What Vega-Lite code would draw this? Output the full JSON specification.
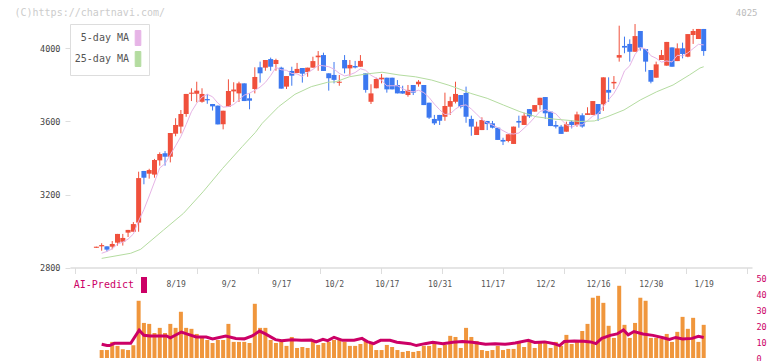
{
"$schema":"https://vega.github.io/schema/vega-lite/v6.json",
"width":682,"height":334,
"autosize":{"type":"none"},
"padding":{"left":70,"top":24,"right":20,"bottom":3},
"background":"white",
"config":{"view":{"stroke":null},"font":"DejaVu Sans Mono","axis":{"grid":false}},
"datasets":{
"candles":[
{"i":0,"o":2908,"h":2914,"l":2908,"c":2914},{"i":1,"o":2916,"h":2933,"l":2892,"c":2923},{"i":2,"o":2916,"h":2916,"l":2887,"c":2898},{"i":3,"o":2914,"h":2945,"l":2900,"c":2929},{"i":4,"o":2936,"h":2984,"l":2920,"c":2984},{"i":5,"o":2941,"h":2984,"l":2920,"c":2962},{"i":6,"o":2991,"h":3006,"l":2967,"c":3006},{"i":7,"o":2996,"h":3049,"l":2996,"c":3038},{"i":8,"o":3046,"h":3325,"l":2996,"c":3290},{"i":9,"o":3329,"h":3329,"l":3256,"c":3292},
{"i":10,"o":3314,"h":3341,"l":3287,"c":3334},{"i":11,"o":3309,"h":3395,"l":3292,"c":3389},{"i":12,"o":3387,"h":3431,"l":3358,"c":3422},{"i":13,"o":3426,"h":3438,"l":3358,"c":3407},{"i":14,"o":3407,"h":3537,"l":3376,"c":3537},{"i":15,"o":3533,"h":3618,"l":3519,"c":3581},{"i":16,"o":3572,"h":3663,"l":3535,"c":3641},{"i":17,"o":3641,"h":3751,"l":3626,"c":3751},{"i":18,"o":3752,"h":3782,"l":3712,"c":3758},{"i":19,"o":3752,"h":3818,"l":3705,"c":3769},
{"i":20,"o":3708,"h":3782,"l":3703,"c":3751},{"i":21,"o":3723,"h":3751,"l":3697,"c":3716},{"i":22,"o":3696,"h":3696,"l":3660,"c":3683},{"i":23,"o":3687,"h":3687,"l":3584,"c":3584},{"i":24,"o":3585,"h":3659,"l":3557,"c":3659},{"i":25,"o":3681,"h":3831,"l":3681,"c":3767},{"i":26,"o":3765,"h":3815,"l":3707,"c":3775},{"i":27,"o":3754,"h":3818,"l":3707,"c":3809},{"i":28,"o":3809,"h":3809,"l":3712,"c":3712},{"i":29,"o":3727,"h":3754,"l":3667,"c":3714},
{"i":30,"o":3778,"h":3897,"l":3754,"c":3844},{"i":31,"o":3897,"h":3928,"l":3813,"c":3864},{"i":32,"o":3895,"h":3937,"l":3878,"c":3937},{"i":33,"o":3942,"h":3950,"l":3878,"c":3900},{"i":34,"o":3915,"h":3944,"l":3878,"c":3937},{"i":35,"o":3895,"h":3900,"l":3780,"c":3780},{"i":36,"o":3791,"h":3849,"l":3778,"c":3849},{"i":37,"o":3877,"h":3900,"l":3796,"c":3851},{"i":38,"o":3866,"h":3921,"l":3866,"c":3888},{"i":39,"o":3893,"h":3893,"l":3813,"c":3862},
{"i":40,"o":3871,"h":3895,"l":3845,"c":3895},{"i":41,"o":3895,"h":3955,"l":3895,"c":3931},{"i":42,"o":3952,"h":3986,"l":3878,"c":3961},{"i":43,"o":3964,"h":3977,"l":3877,"c":3877},{"i":44,"o":3864,"h":3864,"l":3769,"c":3837},{"i":45,"o":3855,"h":3926,"l":3809,"c":3828},{"i":46,"o":3812,"h":3855,"l":3796,"c":3818},{"i":47,"o":3937,"h":3964,"l":3864,"c":3891},{"i":48,"o":3891,"h":3937,"l":3851,"c":3910},{"i":49,"o":3904,"h":3932,"l":3891,"c":3896},
{"i":50,"o":3900,"h":3964,"l":3900,"c":3932},{"i":51,"o":3864,"h":3864,"l":3758,"c":3773},{"i":52,"o":3708,"h":3804,"l":3696,"c":3754},{"i":53,"o":3782,"h":3840,"l":3782,"c":3833},{"i":54,"o":3831,"h":3860,"l":3809,"c":3840},{"i":55,"o":3840,"h":3840,"l":3758,"c":3776},{"i":56,"o":3840,"h":3840,"l":3776,"c":3776},{"i":57,"o":3800,"h":3827,"l":3754,"c":3754},{"i":58,"o":3767,"h":3796,"l":3752,"c":3753},{"i":59,"o":3745,"h":3800,"l":3736,"c":3773},
{"i":60,"o":3800,"h":3800,"l":3745,"c":3758},{"i":61,"o":3804,"h":3827,"l":3791,"c":3818},{"i":62,"o":3800,"h":3800,"l":3690,"c":3690},{"i":63,"o":3703,"h":3703,"l":3614,"c":3621},{"i":64,"o":3614,"h":3636,"l":3581,"c":3590},{"i":65,"o":3636,"h":3636,"l":3581,"c":3604},{"i":66,"o":3626,"h":3758,"l":3604,"c":3685},{"i":67,"o":3681,"h":3736,"l":3636,"c":3712},{"i":68,"o":3708,"h":3818,"l":3699,"c":3751},{"i":69,"o":3745,"h":3745,"l":3672,"c":3681},
{"i":70,"o":3756,"h":3791,"l":3593,"c":3626},{"i":71,"o":3614,"h":3632,"l":3522,"c":3572},{"i":72,"o":3526,"h":3599,"l":3526,"c":3572},{"i":73,"o":3553,"h":3623,"l":3553,"c":3608},{"i":74,"o":3603,"h":3603,"l":3553,"c":3586},{"i":75,"o":3590,"h":3603,"l":3562,"c":3566},{"i":76,"o":3566,"h":3566,"l":3499,"c":3499},{"i":77,"o":3499,"h":3511,"l":3471,"c":3490},{"i":78,"o":3493,"h":3530,"l":3486,"c":3530},{"i":79,"o":3477,"h":3572,"l":3477,"c":3572},
{"i":80,"o":3603,"h":3632,"l":3566,"c":3594},{"i":81,"o":3581,"h":3648,"l":3581,"c":3632},{"i":82,"o":3668,"h":3668,"l":3619,"c":3628},{"i":83,"o":3654,"h":3690,"l":3654,"c":3690},{"i":84,"o":3690,"h":3730,"l":3665,"c":3730},{"i":85,"o":3734,"h":3734,"l":3614,"c":3645},{"i":86,"o":3654,"h":3654,"l":3575,"c":3575},{"i":87,"o":3581,"h":3603,"l":3562,"c":3572},{"i":88,"o":3572,"h":3581,"l":3532,"c":3532},{"i":89,"o":3544,"h":3599,"l":3544,"c":3585},
{"i":90,"o":3599,"h":3608,"l":3562,"c":3581},{"i":91,"o":3581,"h":3654,"l":3571,"c":3639},{"i":92,"o":3634,"h":3645,"l":3566,"c":3572},{"i":93,"o":3636,"h":3678,"l":3636,"c":3645},{"i":94,"o":3636,"h":3712,"l":3636,"c":3712},{"i":95,"o":3696,"h":3696,"l":3603,"c":3641},{"i":96,"o":3694,"h":3842,"l":3658,"c":3842},{"i":97,"o":3773,"h":3842,"l":3708,"c":3758},{"i":98,"o":3809,"h":3849,"l":3778,"c":3817},{"i":99,"o":3950,"h":4125,"l":3928,"c":3964},
{"i":100,"o":4014,"h":4065,"l":3974,"c":4005},{"i":101,"o":4025,"h":4050,"l":3928,"c":3982},{"i":102,"o":3982,"h":4134,"l":3982,"c":4068},{"i":103,"o":4096,"h":4096,"l":3988,"c":4005},{"i":104,"o":3997,"h":3997,"l":3873,"c":3928},{"i":105,"o":3882,"h":3882,"l":3809,"c":3818},{"i":106,"o":3840,"h":3928,"l":3840,"c":3913},{"i":107,"o":3937,"h":3992,"l":3937,"c":3964},{"i":108,"o":3906,"h":4036,"l":3906,"c":4036},{"i":109,"o":4006,"h":4006,"l":3900,"c":3900},
{"i":110,"o":3931,"h":4028,"l":3931,"c":4001},{"i":111,"o":4001,"h":4032,"l":3946,"c":3970},{"i":112,"o":3955,"h":4079,"l":3952,"c":4079},{"i":113,"o":4074,"h":4107,"l":4025,"c":4096},{"i":114,"o":4052,"h":4107,"l":4052,"c":4107},{"i":115,"o":4107,"h":4107,"l":3960,"c":3986}
],
"ma":[
{"i":1,"v":2878,"s":"5-day MA"},{"i":2,"v":2888,"s":"5-day MA"},{"i":3,"v":2902,"s":"5-day MA"},{"i":4,"v":2928.8,"s":"5-day MA"},{"i":5,"v":2939,"s":"5-day MA"},{"i":6,"v":2955.4,"s":"5-day MA"},{"i":7,"v":2983.4,"s":"5-day MA"},{"i":8,"v":3055.6,"s":"5-day MA"},{"i":9,"v":3117.4,"s":"5-day MA"},{"i":10,"v":3191.8,"s":"5-day MA"},
{"i":11,"v":3268.6,"s":"5-day MA"},{"i":12,"v":3345.4,"s":"5-day MA"},{"i":13,"v":3368.8,"s":"5-day MA"},{"i":14,"v":3417.8,"s":"5-day MA"},{"i":15,"v":3467.2,"s":"5-day MA"},{"i":16,"v":3517.6,"s":"5-day MA"},{"i":17,"v":3583.4,"s":"5-day MA"},{"i":18,"v":3653.6,"s":"5-day MA"},{"i":19,"v":3700,"s":"5-day MA"},{"i":20,"v":3734,"s":"5-day MA"},
{"i":21,"v":3749,"s":"5-day MA"},{"i":22,"v":3735.4,"s":"5-day MA"},{"i":23,"v":3700.6,"s":"5-day MA"},{"i":24,"v":3678.6,"s":"5-day MA"},{"i":25,"v":3681.8,"s":"5-day MA"},{"i":26,"v":3693.4,"s":"5-day MA"},{"i":27,"v":3718.6,"s":"5-day MA"},{"i":28,"v":3744.2,"s":"5-day MA"},{"i":29,"v":3755.2,"s":"5-day MA"},{"i":30,"v":3770.6,"s":"5-day MA"},
{"i":31,"v":3788.6,"s":"5-day MA"},{"i":32,"v":3814.2,"s":"5-day MA"},{"i":33,"v":3851.8,"s":"5-day MA"},{"i":34,"v":3896.4,"s":"5-day MA"},{"i":35,"v":3883.6,"s":"5-day MA"},{"i":36,"v":3880.6,"s":"5-day MA"},{"i":37,"v":3863.4,"s":"5-day MA"},{"i":38,"v":3861,"s":"5-day MA"},{"i":39,"v":3846,"s":"5-day MA"},{"i":40,"v":3869,"s":"5-day MA"},
{"i":41,"v":3885.4,"s":"5-day MA"},{"i":42,"v":3907.4,"s":"5-day MA"},{"i":43,"v":3905.2,"s":"5-day MA"},{"i":44,"v":3900.2,"s":"5-day MA"},{"i":45,"v":3886.8,"s":"5-day MA"},{"i":46,"v":3863.8,"s":"5-day MA"},{"i":47,"v":3849.8,"s":"5-day MA"},{"i":48,"v":3856.4,"s":"5-day MA"},{"i":49,"v":3868.2,"s":"5-day MA"},{"i":50,"v":3889,"s":"5-day MA"},
{"i":51,"v":3880.4,"s":"5-day MA"},{"i":52,"v":3853,"s":"5-day MA"},{"i":53,"v":3837.6,"s":"5-day MA"},{"i":54,"v":3826.4,"s":"5-day MA"},{"i":55,"v":3795.2,"s":"5-day MA"},{"i":56,"v":3795.8,"s":"5-day MA"},{"i":57,"v":3795.8,"s":"5-day MA"},{"i":58,"v":3779.8,"s":"5-day MA"},{"i":59,"v":3766.4,"s":"5-day MA"},{"i":60,"v":3762.8,"s":"5-day MA"},
{"i":61,"v":3771.2,"s":"5-day MA"},{"i":62,"v":3758.4,"s":"5-day MA"},{"i":63,"v":3732,"s":"5-day MA"},{"i":64,"v":3695.4,"s":"5-day MA"},{"i":65,"v":3664.6,"s":"5-day MA"},{"i":66,"v":3638,"s":"5-day MA"},{"i":67,"v":3642.4,"s":"5-day MA"},{"i":68,"v":3668.4,"s":"5-day MA"},{"i":69,"v":3686.6,"s":"5-day MA"},{"i":70,"v":3691,"s":"5-day MA"},
{"i":71,"v":3668.4,"s":"5-day MA"},{"i":72,"v":3640.4,"s":"5-day MA"},{"i":73,"v":3611.8,"s":"5-day MA"},{"i":74,"v":3592.8,"s":"5-day MA"},{"i":75,"v":3580.8,"s":"5-day MA"},{"i":76,"v":3566.2,"s":"5-day MA"},{"i":77,"v":3549.8,"s":"5-day MA"},{"i":78,"v":3534.2,"s":"5-day MA"},{"i":79,"v":3531.4,"s":"5-day MA"},{"i":80,"v":3537,"s":"5-day MA"},
{"i":81,"v":3563.6,"s":"5-day MA"},{"i":82,"v":3591.2,"s":"5-day MA"},{"i":83,"v":3623.2,"s":"5-day MA"},{"i":84,"v":3654.8,"s":"5-day MA"},{"i":85,"v":3665,"s":"5-day MA"},{"i":86,"v":3653.6,"s":"5-day MA"},{"i":87,"v":3642.4,"s":"5-day MA"},{"i":88,"v":3610.8,"s":"5-day MA"},{"i":89,"v":3581.8,"s":"5-day MA"},{"i":90,"v":3569,"s":"5-day MA"},
{"i":91,"v":3581.8,"s":"5-day MA"},{"i":92,"v":3581.8,"s":"5-day MA"},{"i":93,"v":3604.4,"s":"5-day MA"},{"i":94,"v":3629.8,"s":"5-day MA"},{"i":95,"v":3641.8,"s":"5-day MA"},{"i":96,"v":3682.4,"s":"5-day MA"},{"i":97,"v":3719.6,"s":"5-day MA"},{"i":98,"v":3754,"s":"5-day MA"},{"i":99,"v":3804.4,"s":"5-day MA"},{"i":100,"v":3877.2,"s":"5-day MA"},
{"i":101,"v":3905.2,"s":"5-day MA"},{"i":102,"v":3967.2,"s":"5-day MA"},{"i":103,"v":4004.8,"s":"5-day MA"},{"i":104,"v":3997.6,"s":"5-day MA"},{"i":105,"v":3960.2,"s":"5-day MA"},{"i":106,"v":3946.4,"s":"5-day MA"},{"i":107,"v":3925.6,"s":"5-day MA"},{"i":108,"v":3931.8,"s":"5-day MA"},{"i":109,"v":3926.2,"s":"5-day MA"},{"i":110,"v":3962.8,"s":"5-day MA"},
{"i":111,"v":3959.4,"s":"5-day MA"},{"i":112,"v":3976,"s":"5-day MA"},{"i":113,"v":3999.2,"s":"5-day MA"},{"i":114,"v":4022.8,"s":"5-day MA"},{"i":115,"v":4019.8,"s":"5-day MA"},
{"i":1,"v":2850,"s":"25-day MA"},{"i":6.5,"v":2878,"s":"25-day MA"},{"i":8.4,"v":2900,"s":"25-day MA"},{"i":12.7,"v":3005,"s":"25-day MA"},{"i":16.5,"v":3097,"s":"25-day MA"},{"i":20.2,"v":3215,"s":"25-day MA"},{"i":23.9,"v":3343,"s":"25-day MA"},{"i":27.6,"v":3462,"s":"25-day MA"},{"i":30.1,"v":3540,"s":"25-day MA"},{"i":31.4,"v":3590,"s":"25-day MA"},
{"i":34.5,"v":3681,"s":"25-day MA"},{"i":37.6,"v":3749,"s":"25-day MA"},{"i":40.7,"v":3791,"s":"25-day MA"},{"i":43.8,"v":3815,"s":"25-day MA"},{"i":45.4,"v":3818,"s":"25-day MA"},{"i":47.9,"v":3845,"s":"25-day MA"},{"i":51,"v":3860,"s":"25-day MA"},{"i":54.1,"v":3870,"s":"25-day MA"},{"i":57.3,"v":3855,"s":"25-day MA"},{"i":60.4,"v":3845,"s":"25-day MA"},
{"i":63.5,"v":3827,"s":"25-day MA"},{"i":66.6,"v":3800,"s":"25-day MA"},{"i":68.1,"v":3785,"s":"25-day MA"},{"i":70.9,"v":3754,"s":"25-day MA"},{"i":74,"v":3727,"s":"25-day MA"},{"i":77.1,"v":3690,"s":"25-day MA"},{"i":80.2,"v":3654,"s":"25-day MA"},{"i":83.3,"v":3626,"s":"25-day MA"},{"i":86.4,"v":3614,"s":"25-day MA"},{"i":89.5,"v":3606,"s":"25-day MA"},
{"i":91.5,"v":3600,"s":"25-day MA"},{"i":94.3,"v":3603,"s":"25-day MA"},{"i":96.7,"v":3626,"s":"25-day MA"},{"i":99.9,"v":3663,"s":"25-day MA"},{"i":103,"v":3718,"s":"25-day MA"},{"i":106.1,"v":3763,"s":"25-day MA"},{"i":109.2,"v":3800,"s":"25-day MA"},{"i":112.3,"v":3855,"s":"25-day MA"},{"i":114.3,"v":3893,"s":"25-day MA"},{"i":115,"v":3900,"s":"25-day MA"}
],
"vol":[
{"i":1,"v":5.0},{"i":2,"v":5.0},{"i":3,"v":10.1},{"i":4,"v":7.6},{"i":5,"v":5.5},{"i":6,"v":5.0},{"i":7,"v":8.0},{"i":8,"v":35.9},{"i":9,"v":22.0},{"i":10,"v":21.4},
{"i":11,"v":15.7},{"i":12,"v":18.9},{"i":13,"v":15.7},{"i":14,"v":21.4},{"i":15,"v":18.9},{"i":16,"v":29.0},{"i":17,"v":18.9},{"i":18,"v":18.3},{"i":19,"v":15.1},{"i":20,"v":13.2},
{"i":21,"v":11.3},{"i":22,"v":9.4},{"i":23,"v":11.3},{"i":24,"v":11.3},{"i":25,"v":21.4},{"i":26,"v":10.1},{"i":27,"v":10.1},{"i":28,"v":10.1},{"i":29,"v":9.4},{"i":30,"v":34.0},
{"i":31,"v":18.9},{"i":32,"v":18.9},{"i":33,"v":11.3},{"i":34,"v":9.4},{"i":35,"v":10.1},{"i":36,"v":7.6},{"i":37,"v":13.2},{"i":38,"v":6.3},{"i":39,"v":6.9},{"i":40,"v":6.3},
{"i":41,"v":11.3},{"i":42,"v":8.2},{"i":43,"v":9.4},{"i":44,"v":10.1},{"i":45,"v":11.3},{"i":46,"v":12.0},{"i":47,"v":10.1},{"i":48,"v":7.6},{"i":49,"v":7.6},{"i":50,"v":8.8},
{"i":51,"v":11.3},{"i":52,"v":10.1},{"i":53,"v":5.0},{"i":54,"v":5.0},{"i":55,"v":8.2},{"i":56,"v":6.9},{"i":57,"v":5.0},{"i":58,"v":3.8},{"i":59,"v":4.4},{"i":60,"v":3.8},
{"i":61,"v":4.4},{"i":62,"v":7.6},{"i":63,"v":7.6},{"i":64,"v":8.8},{"i":65,"v":6.3},{"i":66,"v":8.2},{"i":67,"v":13.9},{"i":68,"v":13.2},{"i":69,"v":6.3},{"i":70,"v":18.9},
{"i":71,"v":13.2},{"i":72,"v":10.7},{"i":73,"v":5.0},{"i":74,"v":4.4},{"i":75,"v":5.0},{"i":76,"v":7.6},{"i":77,"v":5.0},{"i":78,"v":5.7},{"i":79,"v":5.7},{"i":80,"v":9.4},
{"i":81,"v":6.9},{"i":82,"v":10.1},{"i":83,"v":6.3},{"i":84,"v":10.1},{"i":85,"v":10.1},{"i":86,"v":6.3},{"i":87,"v":10.1},{"i":88,"v":7.6},{"i":89,"v":14.5},{"i":90,"v":8.8},
{"i":91,"v":10.1},{"i":92,"v":17.0},{"i":93,"v":21.4},{"i":94,"v":37.8},{"i":95,"v":39.0},{"i":96,"v":34.6},{"i":97,"v":20.2},{"i":98,"v":12.6},{"i":99,"v":45.3},{"i":100,"v":20.8},
{"i":101,"v":12.6},{"i":102,"v":22.0},{"i":103,"v":37.8},{"i":104,"v":35.9},{"i":105,"v":12.6},{"i":106,"v":12.6},{"i":107,"v":12.0},{"i":108,"v":15.1},{"i":109,"v":10.1},{"i":110,"v":16.4},
{"i":111,"v":25.8},{"i":112,"v":18.3},{"i":113,"v":25.2},{"i":114,"v":10.1},{"i":115,"v":20.8}
],
"ai":[
{"i":1,"a":8.6},{"i":2,"a":7.8},{"i":2.5,"a":7.8},{"i":3.4,"a":9.2},{"i":6.5,"a":9.2},{"i":8.1,"a":17.4},{"i":9,"a":14.2},{"i":10.2,"a":13.8},{"i":13.3,"a":13.8},{"i":14,"a":12.7},
{"i":16.1,"a":16.3},{"i":17.1,"a":15.1},{"i":18.9,"a":13.2},{"i":20.8,"a":13.2},{"i":22,"a":12},{"i":24.5,"a":13.8},{"i":26.4,"a":12.3},{"i":28,"a":12},{"i":29.5,"a":13.8},{"i":30.9,"a":16.9},
{"i":32,"a":15.1},{"i":33.9,"a":11.5},{"i":35.1,"a":10.9},{"i":37,"a":11.5},{"i":38.8,"a":11.1},{"i":40.7,"a":11.3},{"i":41.6,"a":10.1},{"i":42.9,"a":11.7},{"i":43.8,"a":10.9},{"i":45,"a":13.0},
{"i":46.6,"a":11.1},{"i":48.8,"a":11.1},{"i":50.3,"a":12.3},{"i":51.3,"a":10.3},{"i":52.5,"a":9.0},{"i":53.8,"a":11.1},{"i":55.6,"a":11.1},{"i":56.9,"a":9.9},{"i":59.4,"a":9.0},{"i":60.6,"a":7.8},
{"i":62.2,"a":9.0},{"i":63.7,"a":9.9},{"i":65.6,"a":9.0},{"i":67.5,"a":9.9},{"i":69.3,"a":10.3},{"i":71.2,"a":9.9},{"i":73.7,"a":8.6},{"i":75.5,"a":9.0},{"i":77.4,"a":8.6},{"i":79.3,"a":9.4},
{"i":81.8,"a":11.1},{"i":83,"a":9.7},{"i":84.9,"a":10.1},{"i":86.7,"a":9.0},{"i":87.7,"a":7.8},{"i":88.6,"a":10.3},{"i":90.5,"a":10.7},{"i":92.3,"a":10.5},{"i":93.6,"a":10.1},{"i":94.6,"a":9.0},
{"i":95.7,"a":12.3},{"i":97.3,"a":14.2},{"i":98.6,"a":15.1},{"i":99.8,"a":17.6},{"i":100.7,"a":14.5},{"i":101.8,"a":16.6},{"i":103.5,"a":15.1},{"i":105.4,"a":14.2},{"i":107.3,"a":12.7},{"i":108.5,"a":11.7},
{"i":109.7,"a":12.9},{"i":111,"a":11.9},{"i":112.8,"a":12.3},{"i":114,"a":13.6},{"i":115,"a":12.9}
]
},
"layer":[
{"layer":[
{"data":{"name":"candles"},"mark":{"type":"rule","strokeWidth":1},
 "encoding":{
  "x":{"field":"i","type":"quantitative","scale":{"domain":[-4.05,123.2],"nice":false,"zero":false},
   "axis":{"orient":"bottom","offset":-90.5,"values":[-4.01,7.56,19.13,30.69,42.26,53.83,65.39,76.96,88.53,100.1,111.66,123.2],"labels":false,"tickSize":6,"tickColor":"#dddddd","domainColor":"#dddddd","domainWidth":1.5,"title":null,"grid":false}},
  "y":{"field":"l","type":"quantitative","scale":{"domain":[2304.2,4134.2],"nice":false,"zero":false},
   "axis":{"orient":"left","values":[2800,3200,3600,4000],"format":"d","domain":false,"tickSize":5,"tickColor":"#dddddd","labelPadding":5,"labelFontSize":8.5,"labelColor":"#444444","labelFont":"DejaVu Sans Mono",
   "title":"(C)https://chartnavi.com/","titleAngle":0,"titleX":-56,"titleY":-12,"titleAlign":"left","titleBaseline":"middle","titleFontSize":10,"titleFontWeight":"normal","titleColor":"#cccccc","titleFont":"DejaVu Sans Mono"}},
  "y2":{"field":"h"},
  "color":{"condition":{"test":"datum.c >= datum.o","value":"#f0503c"},"value":"#3c78f0"}
 }},
{"data":{"name":"candles"},"mark":{"type":"bar","size":5,"orient":"vertical"},
 "encoding":{
  "x":{"field":"i","type":"quantitative"},
  "y":{"field":"o","type":"quantitative"},
  "y2":{"field":"c"},
  "color":{"condition":{"test":"datum.c >= datum.o","value":"#f0503c"},"value":"#3c78f0"}
 }},
{"data":{"name":"ma"},"mark":{"type":"line","strokeWidth":1},
 "encoding":{
  "x":{"field":"i","type":"quantitative"},
  "y":{"field":"v","type":"quantitative"},
  "color":{"field":"s","type":"nominal","scale":{"domain":["5-day MA","25-day MA"],"range":["#e6b4e6","#b4dca0"]},
   "legend":{"orient":"top-left","offset":0,"title":null,"padding":6,"strokeColor":"#dddddd","fillColor":"white","labelFont":"DejaVu Sans Mono","labelFontSize":10,"labelColor":"#555555",
    "symbolType":"M-0.375,-1H0.375V1H-0.375Z","symbolSize":225,"symbolStrokeColor":"#555555","symbolStrokeWidth":1,"rowPadding":1,"labelAlign":"right","labelOffset":-17,"symbolOffset":54,
    "encode":{"symbols":{"update":{"fill":[{"test":"datum.value === '5-day MA'","value":"#e6b4e6"},{"value":"#b4dca0"}],"stroke":{"value":"#555555"},"strokeWidth":{"value":1},"opacity":{"value":1}}}}}}
 }},
{"mark":{"type":"rule","color":"#dddddd","strokeWidth":1.5},
 "encoding":{"x":{"datum":-4.05,"type":"quantitative"},"y":{"datum":2800,"type":"quantitative"},"y2":{"datum":4134.2}}}
]},
{"layer":[
{"data":{"name":"vol"},"mark":{"type":"bar","size":4,"orient":"vertical","color":"#f0963c"},
 "encoding":{
  "x":{"field":"i","type":"quantitative","scale":{"domain":[-4.05,123.2],"nice":false,"zero":false},
   "axis":{"orient":"bottom","offset":-90.5,"values":[15,25,35,45,55,65,75,85,95,105,115],"domain":false,"ticks":false,"tickSize":0,"labelPadding":13,"labelFontSize":8,"labelColor":"#555555","labelFont":"DejaVu Sans Mono","title":null,"grid":false,
   "labelExpr":"datum.value==15?'8/19':datum.value==25?'9/2':datum.value==35?'9/17':datum.value==45?'10/2':datum.value==55?'10/17':datum.value==65?'10/31':datum.value==75?'11/17':datum.value==85?'12/2':datum.value==95?'12/16':datum.value==105?'12/30':'1/19'"}},
  "y":{"field":"v","type":"quantitative","scale":{"domain":[0,209.5],"nice":false,"zero":true},
   "axis":{"orient":"right","values":[0,10,20,30,40,50],"domain":false,"ticks":false,"tickSize":0,"labelPadding":4,"labelFontSize":8.5,"labelColor":"#cc0066","labelFont":"DejaVu Sans Mono",
   "title":"4025","titleAngle":0,"titleX":5,"titleY":-12,"titleAlign":"right","titleBaseline":"middle","titleFontSize":9,"titleFontWeight":"normal","titleColor":"#bbbbbb","titleFont":"DejaVu Sans Mono"}}
 }},
{"data":{"name":"ai"},"mark":{"type":"line","strokeWidth":3},
 "encoding":{
  "x":{"field":"i","type":"quantitative"},
  "y":{"field":"a","type":"quantitative"},
  "color":{"datum":"AI-Predict","type":"nominal","scale":{"domain":["AI-Predict"],"range":["#cc0066"]},
   "legend":{"orient":"none","legendX":5,"legendY":253,"title":null,"padding":0,"labelFont":"DejaVu Sans Mono","labelFontSize":10,"labelColor":"#cc0066",
    "symbolType":"M-0.375,-1H0.375V1H-0.375Z","symbolSize":256,"labelAlign":"right","labelOffset":-18,"symbolOffset":61,
    "encode":{"symbols":{"update":{"fill":{"value":"#cc0066"},"stroke":{"value":"#cc0066"},"strokeWidth":{"value":0},"opacity":{"value":1}}}}}}
 }}
]}
],
"resolve":{"scale":{"y":"independent","color":"independent"},"axis":{"x":"independent"}}
}
